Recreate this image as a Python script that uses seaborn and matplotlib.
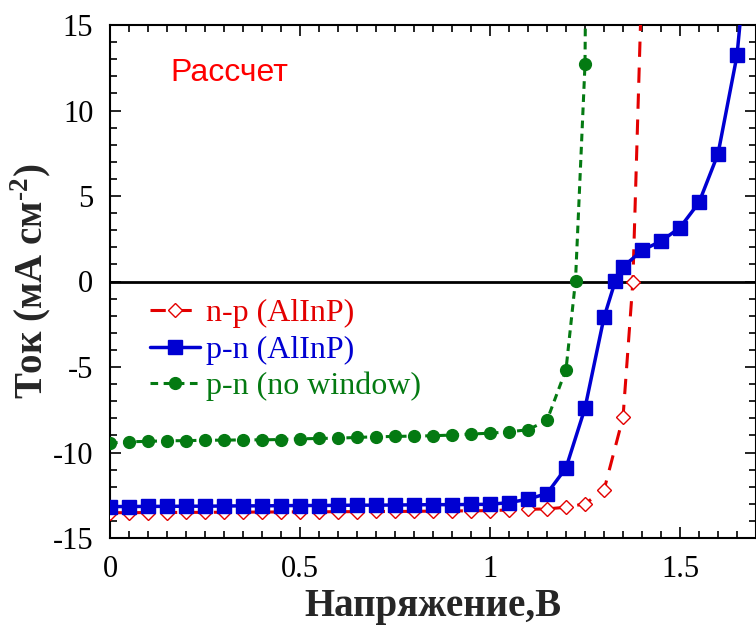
import numpy as np
import pandas as pd
import matplotlib
matplotlib.use("Agg")
import matplotlib.pyplot as plt
import seaborn as sns

# ---- data ----
x_np = [0.00, 0.05, 0.10, 0.15, 0.20, 0.25, 0.30, 0.35, 0.40, 0.45, 0.50, 0.55,
        0.60, 0.65, 0.70, 0.75, 0.80, 0.85, 0.90, 0.95, 1.00, 1.05, 1.10, 1.15,
        1.20, 1.25, 1.30, 1.35, 1.376, 1.40]
y_np = [-13.52, -13.52, -13.51, -13.51, -13.50, -13.50, -13.49, -13.49, -13.48, -13.48,
        -13.47, -13.47, -13.46, -13.46, -13.45, -13.45, -13.44, -13.43, -13.42, -13.41,
        -13.40, -13.36, -13.32, -13.30, -13.20, -13.00, -12.20, -7.95, 0.0, 18.0]

x_pn = [0.00, 0.05, 0.10, 0.15, 0.20, 0.25, 0.30, 0.35, 0.40, 0.45, 0.50, 0.55,
        0.60, 0.65, 0.70, 0.75, 0.80, 0.85, 0.90, 0.95, 1.00, 1.05, 1.10, 1.15,
        1.20, 1.25, 1.30, 1.33, 1.35, 1.40, 1.45, 1.50, 1.55, 1.60, 1.65, 1.70]
y_pn = [-13.16, -13.16, -13.15, -13.15, -13.14, -13.14, -13.13, -13.12, -13.12, -13.11,
        -13.10, -13.10, -13.09, -13.08, -13.08, -13.07, -13.06, -13.05, -13.05, -13.04,
        -13.03, -12.93, -12.73, -12.40, -10.90, -7.40, -2.10, 0.05, 0.85, 1.82, 2.36,
        3.15, 4.62, 7.46, 13.22, 25.0]

x_nw = [0.00, 0.05, 0.10, 0.15, 0.20, 0.25, 0.30, 0.35, 0.40, 0.45, 0.50, 0.55,
        0.60, 0.65, 0.70, 0.75, 0.80, 0.85, 0.90, 0.95, 1.00, 1.05, 1.10, 1.15,
        1.20, 1.225, 1.25, 1.26]
y_nw = [-9.45, -9.37, -9.35, -9.31, -9.31, -9.28, -9.28, -9.26, -9.26, -9.24,
        -9.20, -9.18, -9.16, -9.12, -9.08, -9.06, -9.04, -9.02, -8.98, -8.92,
        -8.87, -8.79, -8.67, -8.12, -5.15, 0.05, 12.7, 40.0]

labels = ["n-p (AlInP)", "p-n (AlInP)", "p-n (no window)"]
colors = ["#e30000", "#0000d2", "#047a12"]
x_ticks = [0, 0.5, 1, 1.5]
x_ticklabels = ["0", "0.5", "1", "1.5"]
y_ticks = [-15, -10, -5, 0, 5, 10, 15]
note_text = "Рассчет"
xlabel = "Напряжение,В"
ylabel = r"Ток (мА см$^{\text{-2}}$)"

sns.set_theme(style="ticks")
plt.rcParams["font.family"] = ["Liberation Serif", "DejaVu Serif"]
plt.rcParams["axes.unicode_minus"] = False
plt.rcParams["mathtext.fontset"] = "custom"
plt.rcParams["mathtext.rm"] = "Liberation Serif:bold"
plt.rcParams["mathtext.bf"] = "Liberation Serif:bold"

fig = plt.figure(figsize=(7.56, 6.25), dpi=100)
ax = fig.add_axes([110 / 756, 1 - 538 / 625, 646 / 756, 513 / 625])

df_np = pd.DataFrame({"x": x_np, "y": y_np})
df_pn = pd.DataFrame({"x": x_pn, "y": y_pn})
df_nw = pd.DataFrame({"x": x_nw, "y": y_nw})

ax.axhline(0, color="black", lw=2.0, zorder=1)

sns.lineplot(data=df_np, x="x", y="y", ax=ax, estimator=None, sort=False,
             color=colors[0], lw=2.2, linestyle=(0, (5, 3.5)),
             marker="D", markersize=7, markerfacecolor="white",
             markeredgecolor=colors[0], markeredgewidth=1.0, label=labels[0], zorder=3)
sns.lineplot(data=df_pn, x="x", y="y", ax=ax, estimator=None, sort=False,
             color=colors[1], lw=2.5, marker="s", markersize=9.5,
             markerfacecolor=colors[1], markeredgecolor=colors[1],
             markeredgewidth=1.0, label=labels[1], zorder=4)
sns.lineplot(data=df_nw, x="x", y="y", ax=ax, estimator=None, sort=False,
             color=colors[2], lw=2.2, linestyle=(0, (2.5, 1.8)), marker="o",
             markersize=8.5, markerfacecolor=colors[2], markeredgecolor=colors[2],
             markeredgewidth=1.0, label=labels[2], zorder=5)

ax.set_xlim(0, 1.7)
ax.set_ylim(-15, 15)
ax.set_xticks(x_ticks)
ax.set_xticklabels(x_ticklabels)
ax.set_yticks(y_ticks)
ax.xaxis.set_minor_locator(matplotlib.ticker.MultipleLocator(0.05))
ax.yaxis.set_minor_locator(matplotlib.ticker.MultipleLocator(1))
ax.tick_params(which="both", direction="in", top=True, right=True,
               colors="black", width=1.2)
ax.tick_params(which="major", length=8, labelsize=22, pad=12)
ax.tick_params(which="minor", length=5)
for sp in ax.spines.values():
    sp.set_visible(True)
    sp.set_linewidth(1.5)
    sp.set_color("black")

ax.set_xlabel(xlabel, fontsize=28, fontweight="bold", labelpad=3)
ax.set_ylabel(ylabel, fontsize=28, fontweight="bold", labelpad=-1)

ax.text(0.093, 0.906, note_text, transform=ax.transAxes, color="#ff0000",
        fontsize=23, family=["Liberation Sans", "DejaVu Sans"], va="center", ha="left")

leg = ax.legend(loc="upper left", bbox_to_anchor=(0.062, 0.466), frameon=False,
                fontsize=23, handlelength=1.55, handletextpad=0.2, labelspacing=0.22,
                borderpad=0, borderaxespad=0)
for t, c in zip(leg.get_texts(), colors):
    t.set_color(c)

fig.savefig("out.png", dpi=100)
